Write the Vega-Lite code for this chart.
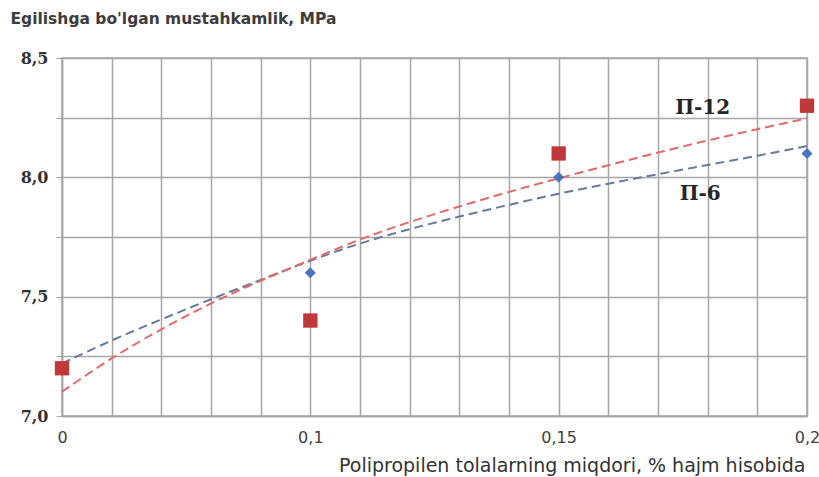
{
  "$schema": "https://vega.github.io/schema/vega-lite/v6.json",
  "autosize": "none",
  "width": 745,
  "height": 358,
  "padding": {"left": 62, "top": 58, "right": 12, "bottom": 61},
  "background": "white",
  "config": {"view": {"stroke": "#a6a6a6", "strokeWidth": 1.5}},
  "datasets": {
    "points": [
      {"series": "П-6", "dose": 0, "strength": 7.2},
      {"series": "П-6", "dose": 0.1, "strength": 7.6},
      {"series": "П-6", "dose": 0.15, "strength": 8.0},
      {"series": "П-6", "dose": 0.2, "strength": 8.1},
      {"series": "П-12", "dose": 0, "strength": 7.2},
      {"series": "П-12", "dose": 0.1, "strength": 7.4},
      {"series": "П-12", "dose": 0.15, "strength": 8.1},
      {"series": "П-12", "dose": 0.2, "strength": 8.3}
    ],
    "trend": [
      {"series": "П-6", "dose": 0, "strength": 7.22},
      {"series": "П-6", "dose": 0.02, "strength": 7.318},
      {"series": "П-6", "dose": 0.04, "strength": 7.405},
      {"series": "П-6", "dose": 0.06, "strength": 7.49},
      {"series": "П-6", "dose": 0.08, "strength": 7.57},
      {"series": "П-6", "dose": 0.1, "strength": 7.652},
      {"series": "П-6", "dose": 0.11, "strength": 7.725},
      {"series": "П-6", "dose": 0.12, "strength": 7.784},
      {"series": "П-6", "dose": 0.13, "strength": 7.836},
      {"series": "П-6", "dose": 0.14, "strength": 7.885},
      {"series": "П-6", "dose": 0.15, "strength": 7.932},
      {"series": "П-6", "dose": 0.16, "strength": 7.974},
      {"series": "П-6", "dose": 0.17, "strength": 8.013},
      {"series": "П-6", "dose": 0.18, "strength": 8.052},
      {"series": "П-6", "dose": 0.19, "strength": 8.09},
      {"series": "П-6", "dose": 0.2, "strength": 8.131},
      {"series": "П-12", "dose": 0, "strength": 7.102},
      {"series": "П-12", "dose": 0.02, "strength": 7.245},
      {"series": "П-12", "dose": 0.04, "strength": 7.365},
      {"series": "П-12", "dose": 0.06, "strength": 7.474},
      {"series": "П-12", "dose": 0.08, "strength": 7.568},
      {"series": "П-12", "dose": 0.1, "strength": 7.654},
      {"series": "П-12", "dose": 0.11, "strength": 7.742},
      {"series": "П-12", "dose": 0.12, "strength": 7.814},
      {"series": "П-12", "dose": 0.13, "strength": 7.878},
      {"series": "П-12", "dose": 0.14, "strength": 7.94},
      {"series": "П-12", "dose": 0.15, "strength": 7.996},
      {"series": "П-12", "dose": 0.16, "strength": 8.051},
      {"series": "П-12", "dose": 0.17, "strength": 8.104},
      {"series": "П-12", "dose": 0.18, "strength": 8.155},
      {"series": "П-12", "dose": 0.19, "strength": 8.202},
      {"series": "П-12", "dose": 0.2, "strength": 8.247}
    ],
    "labels": [
      {"label": "П-12", "dose": 0.1790, "strength": 8.29},
      {"label": "П-6", "dose": 0.1785, "strength": 7.93}
    ]
  },
  "layer": [
    {
      "data": {"name": "trend"},
      "mark": {"type": "line", "strokeDash": [9, 5], "strokeWidth": 2, "interpolate": "basis"},
      "encoding": {
        "x": {
          "field": "dose", "type": "quantitative",
          "scale": {"domain": [0, 0.1, 0.15, 0.2], "range": [0, 248.33, 496.67, 745], "nice": false, "zero": false},
          "axis": {
            "values": [0, 0.02, 0.04, 0.06, 0.08, 0.1, 0.11, 0.12, 0.13, 0.14, 0.15, 0.16, 0.17, 0.18, 0.19, 0.2],
            "labelExpr": "indexof([0, 0.1, 0.15, 0.2], datum.value) >= 0 ? replace(toString(datum.value), '.', ',') : ''",
            "grid": true, "gridColor": "#a6a6a6", "gridWidth": 1.5, "gridOpacity": 1,
            "ticks": false, "domain": true, "domainColor": "#a6a6a6", "domainWidth": 1.5,
            "labelFont": "DejaVu Sans", "labelFontSize": 16, "labelColor": "#404040", "labelPadding": 13,
            "labelFlush": false, "labelOverlap": false,
            "title": "Polipropilen tolalarning miqdori, % hajm hisobida",
            "titleFont": "DejaVu Sans", "titleFontSize": 19, "titleFontWeight": "normal", "titleColor": "#333333",
            "titleAnchor": "end", "titleAlign": "right", "titleX": 743, "titleY": 49, "titleBaseline": "middle"
          }
        },
        "y": {
          "field": "strength", "type": "quantitative",
          "scale": {"domain": [7, 8.5], "nice": false, "zero": false},
          "axis": {
            "values": [7, 7.25, 7.5, 7.75, 8, 8.25, 8.5],
            "labelExpr": "(datum.value * 2) % 1 == 0 ? replace(format(datum.value, '.1f'), '.', ',') : ''",
            "grid": true, "gridColor": "#a6a6a6", "gridWidth": 1.5, "gridOpacity": 1,
            "ticks": true, "tickSize": 6, "tickColor": "#a6a6a6", "domain": true, "domainColor": "#a6a6a6", "domainWidth": 1.5,
            "labelFont": "DejaVu Serif", "labelFontSize": 16, "labelFontWeight": "bold", "labelColor": "#333333", "labelPadding": 8,
            "title": "Egilishga bo'lgan mustahkamlik, MPa",
            "titleFont": "DejaVu Sans", "titleFontSize": 15.5, "titleFontWeight": "bold", "titleColor": "#3c3c3c",
            "titleAngle": 0, "titleAlign": "left", "titleBaseline": "middle", "titleX": -52, "titleY": -40
          }
        },
        "color": {
          "field": "series", "type": "nominal",
          "scale": {"domain": ["П-6", "П-12"], "range": ["#667a9c", "#e06b6a"]},
          "legend": null
        }
      }
    },
    {
      "mark": {"type": "rule", "color": "#ec1c24", "strokeWidth": 1.6},
      "encoding": {"x": {"datum": 0.1, "type": "quantitative"}}
    },
    {
      "data": {"name": "points"},
      "transform": [{"filter": "datum.series == 'П-6'"}],
      "mark": {"type": "point", "shape": "diamond", "filled": true, "size": 120, "color": "#4a74c0", "opacity": 1},
      "encoding": {
        "x": {"field": "dose", "type": "quantitative"},
        "y": {"field": "strength", "type": "quantitative"}
      }
    },
    {
      "data": {"name": "points"},
      "transform": [{"filter": "datum.series == 'П-12'"}],
      "mark": {"type": "square", "size": 205, "color": "#c0393a", "opacity": 1},
      "encoding": {
        "x": {"field": "dose", "type": "quantitative"},
        "y": {"field": "strength", "type": "quantitative"}
      }
    },
    {
      "data": {"name": "labels"},
      "mark": {"type": "text", "font": "DejaVu Serif", "fontSize": 20, "fontWeight": "bold", "color": "#262626", "align": "center", "baseline": "middle"},
      "encoding": {
        "x": {"field": "dose", "type": "quantitative"},
        "y": {"field": "strength", "type": "quantitative"},
        "text": {"field": "label"}
      }
    }
  ]
}
